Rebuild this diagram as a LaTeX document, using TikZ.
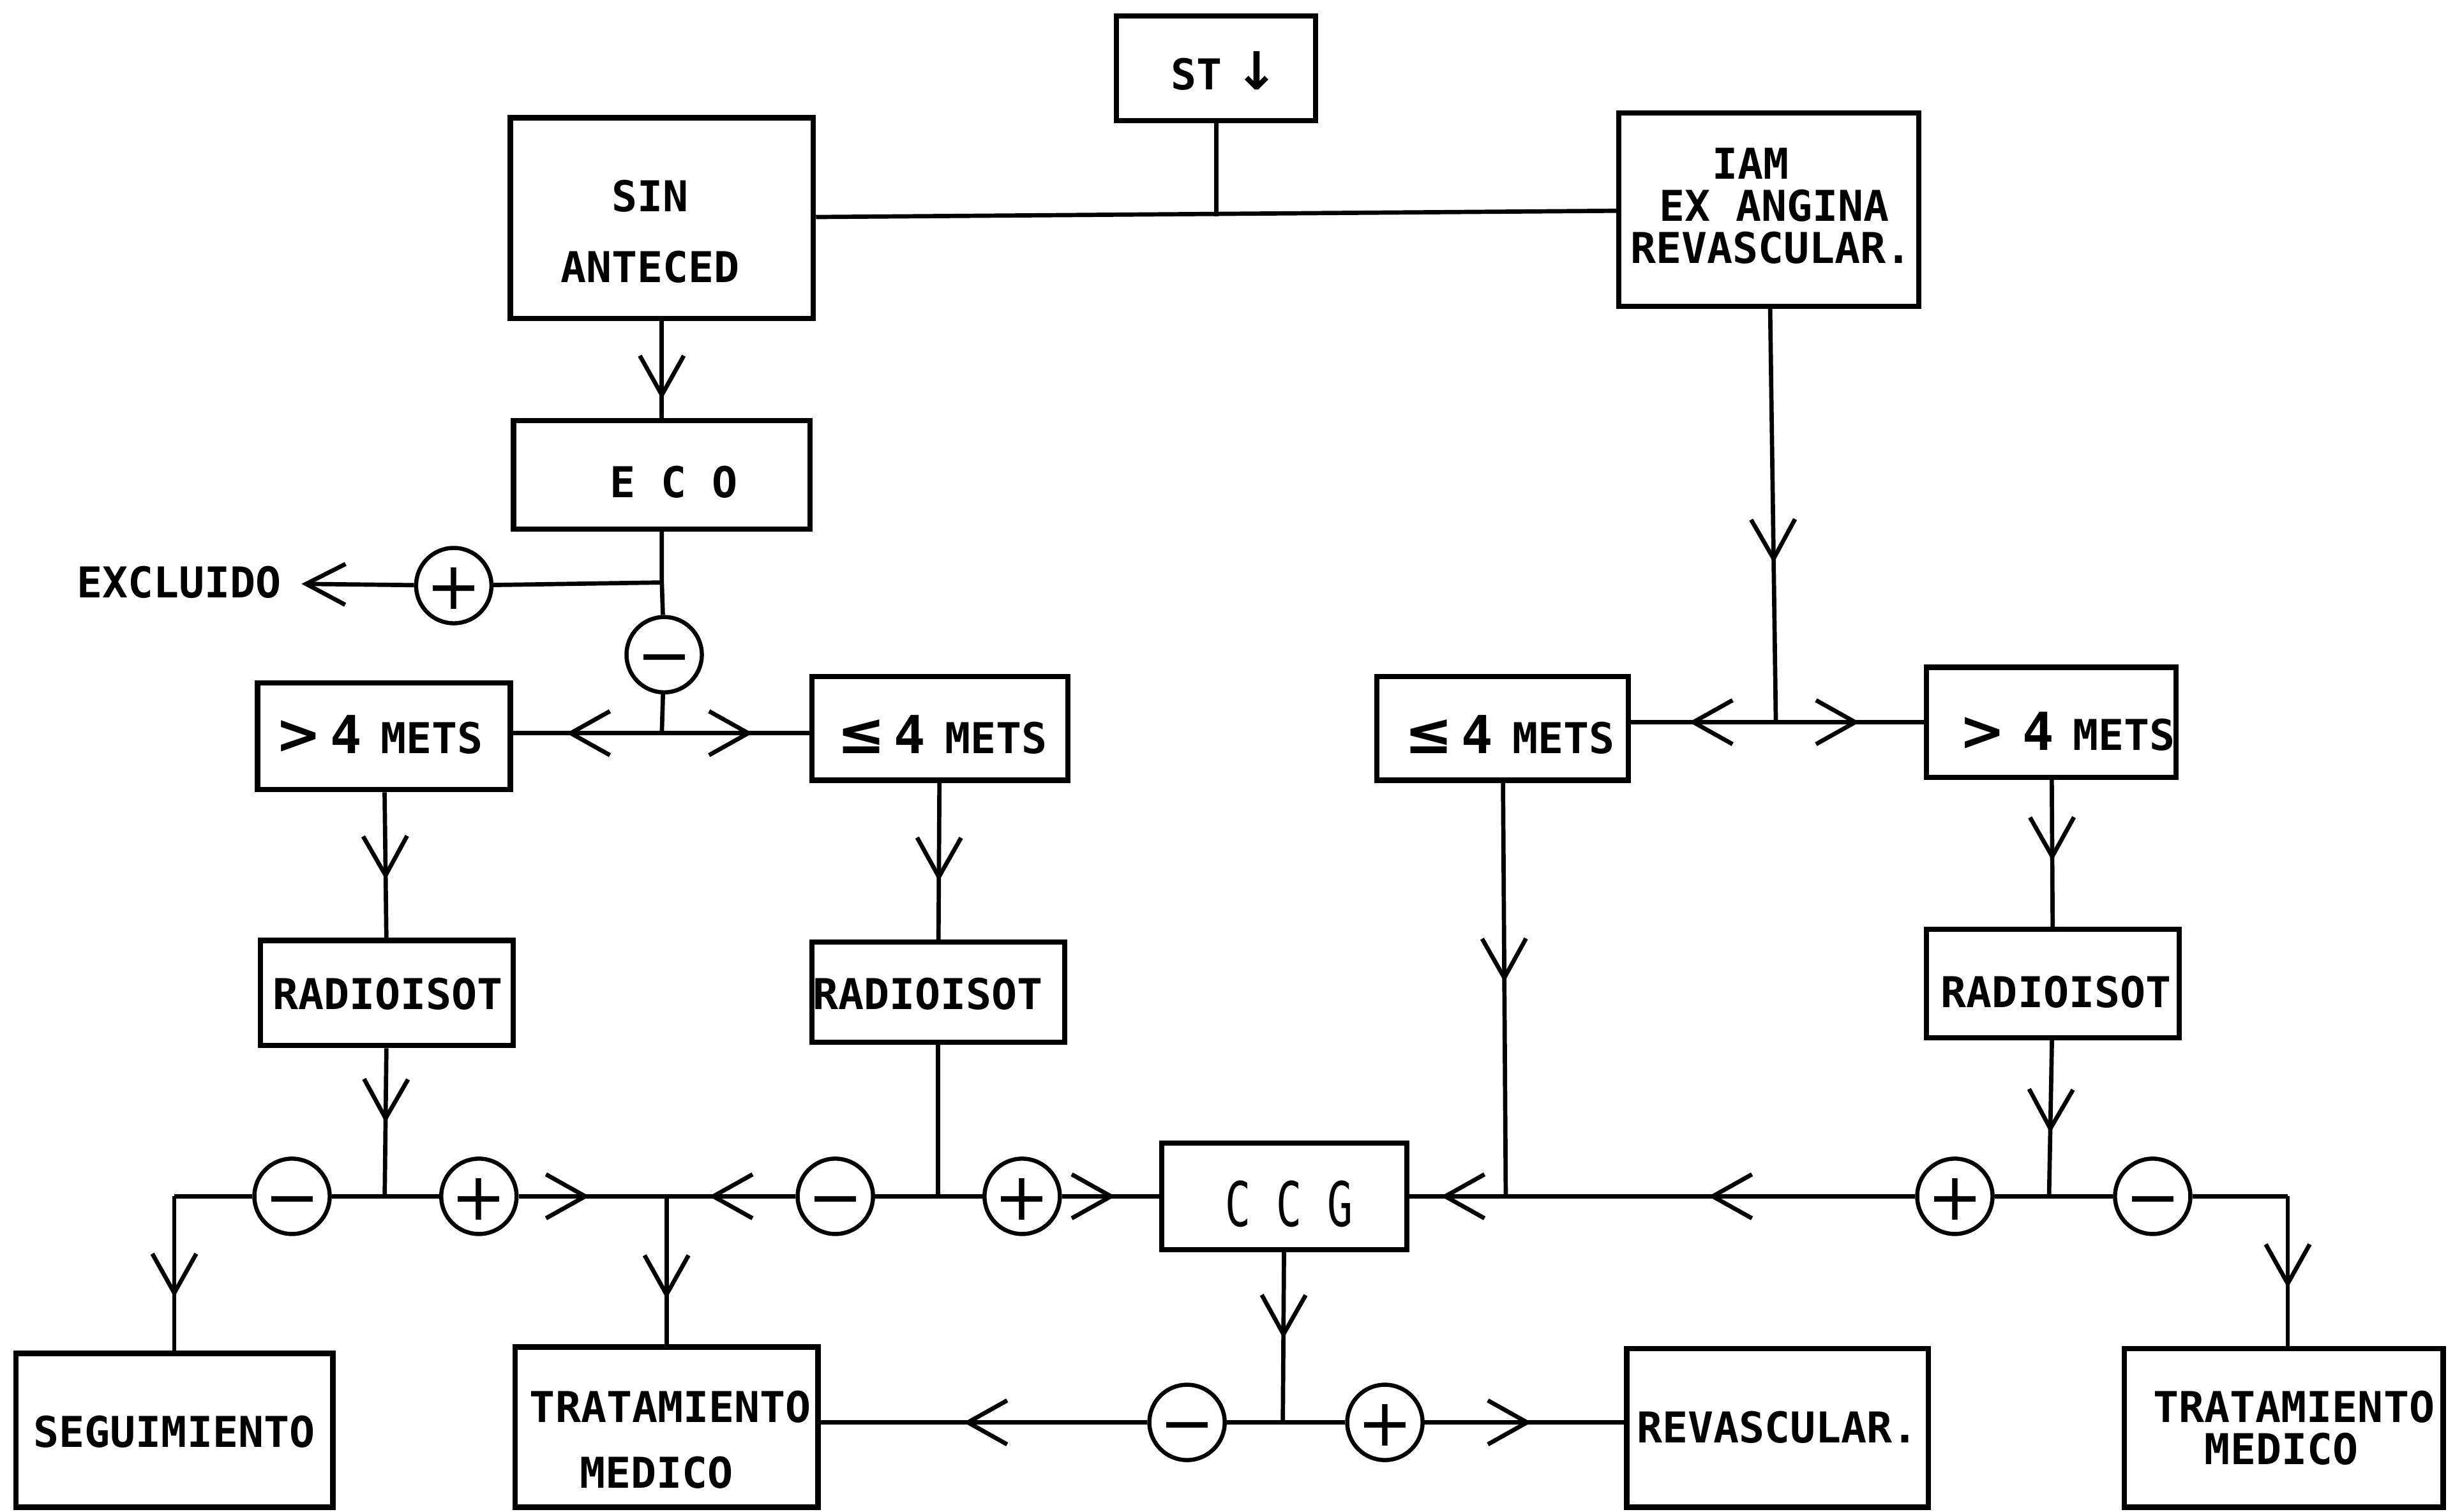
\documentclass[tikz,border=0pt]{standalone}
\usepackage{fontspec}
\usepackage{graphicx}
\usetikzlibrary{arrows.meta,decorations.markings,calc}
\newfontfamily\tf{DejaVu Sans Mono}
\newfontfamily\df{DejaVu Sans}
\begin{document}
\begin{tikzpicture}[x=0.02cm,y=-0.02cm,
  box/.style={draw,line width=1.9pt,inner sep=0pt},
  txt/.style={inner sep=0pt,font=\tf\bfseries\fontsize{15.4}{18}\selectfont},
  conn/.style={line width=1.55pt},
  sig/.style={draw,circle,line width=1.5pt,minimum size=0.96cm,inner sep=0pt,text height=17pt,text depth=0pt,font=\df\fontsize{24}{24}\selectfont},
  arr/.style={postaction={decorate},decoration={markings,mark=at position #1 with {\arrow{Straight Barb[length=0.5cm,width=0.56cm]}}}},
  endarr/.style={-{Straight Barb[length=0.5cm,width=0.52cm]}},
]
\useasboundingbox[fill=white] (0,0) rectangle (1568,963);

% boxes
\node[box,minimum width=2.54cm,minimum height=1.34cm] (st) at (774.5,43.5) {};
\node[box,minimum width=3.86cm,minimum height=2.56cm] (sin) at (421.5,139) {};
\node[box,minimum width=3.82cm,minimum height=2.46cm] (iam) at (1126.5,133.5) {};
\node[box,minimum width=3.78cm,minimum height=1.38cm] (eco) at (421.5,302.5) {};
\node[box,minimum width=3.22cm,minimum height=1.36cm] (gt1) at (244.5,469) {};
\node[box,minimum width=3.26cm,minimum height=1.32cm] (le1) at (598.5,464) {};
\node[box,minimum width=3.20cm,minimum height=1.32cm] (le2) at (957,464) {};
\node[box,minimum width=3.18cm,minimum height=1.40cm] (gt2) at (1306.5,460) {};
\node[box,minimum width=3.22cm,minimum height=1.34cm] (rad1) at (246.5,632.5) {};
\node[box,minimum width=3.22cm,minimum height=1.28cm] (rad2) at (597.5,632) {};
\node[box,minimum width=3.22cm,minimum height=1.38cm] (rad3) at (1307.5,626.5) {};
\node[box,minimum width=3.12cm,minimum height=1.36cm] (ccg) at (818,762) {};
\node[box,minimum width=4.04cm,minimum height=1.96cm] (seg) at (111,911) {};
\node[box,minimum width=3.86cm,minimum height=2.04cm] (trat1) at (424.5,909) {};
\node[box,minimum width=3.84cm,minimum height=2.02cm] (rev) at (1132,909.5) {};
\node[box,minimum width=4.06cm,minimum height=2.02cm] (trat2) at (1454.5,909.5) {};

% texts
\node[txt] (tst) at (780,45) {ST\hspace{0.3em}{\df\bfseries\fontsize{19}{19}\selectfont ↓}};
\node[txt] (tsin1) at (414,125) {SIN};
\node[txt] (tsin2) at (414,170) {ANTECED};
\node[txt] (tiam1) at (1115,104) {IAM};
\node[txt] (tiam2) at (1130,131) {EX ANGINA};
\node[txt] (tiam3) at (1128,158) {REVASCULAR.};
\node[txt] (teco) at (429,307) {E C O};
\node[txt,inner xsep=0.25cm] (excl) at (114,371) {EXCLUIDO};
\node[txt,anchor=base] (tgt1) at (241.5,480) {{\df\fontsize{20}{20}\selectfont>}\hspace{0.2em}{\fontsize{19}{19}\selectfont 4}\hspace{0.45em}METS};
\node[txt,anchor=base] (tle1) at (600,480) {{\df\fontsize{21}{21}\selectfont ≤}\hspace{0.2em}{\fontsize{19}{19}\selectfont 4}\hspace{0.45em}METS};
\node[txt,anchor=base] (tle2) at (961.5,480) {{\df\fontsize{21}{21}\selectfont ≤}\hspace{0.2em}{\fontsize{19}{19}\selectfont 4}\hspace{0.45em}METS};
\node[txt,anchor=base] (tgt2) at (1316.5,478) {{\df\fontsize{20}{20}\selectfont>}\hspace{0.4em}{\fontsize{19}{19}\selectfont 4}\hspace{0.45em}METS};
\node[txt] (trad1) at (247,633) {RADIOISOT};
\node[txt] (trad2) at (591,633) {RADIOISOT};
\node[txt] (trad3) at (1309.5,632) {RADIOISOT};
\node[txt,font=\tf\fontsize{15.4}{18}\selectfont] (tccg) at (821,767) {\scalebox{1}[1.45]{C C G}};
\node[txt] (tseg) at (111,912) {SEGUIMIENTO};
\node[txt] (ttr1a) at (427,896) {TRATAMIENTO};
\node[txt] (ttr1b) at (418,938) {MEDICO};
\node[txt] (trev) at (1132,909) {REVASCULAR.};
\node[txt] (ttr2a) at (1461,896) {TRATAMIENTO};
\node[txt] (ttr2b) at (1453,923) {MEDICO};

% sign circles
\node[sig] (p0) at (289,373) {+};
\node[sig] (m0) at (423,417) {−};
\node[sig] (m1) at (186,762) {−};
\node[sig] (p1) at (305,762) {+};
\node[sig] (m2) at (532,762) {−};
\node[sig] (p2) at (651,762) {+};
\node[sig] (p3) at (1245,762) {+};
\node[sig] (m3) at (1371,762) {−};
\node[sig] (m4) at (756,906) {−};
\node[sig] (p4) at (882,906) {+};

% junctions
\coordinate (jst) at (774.5,138);
\coordinate (ej) at (421.5,371);
\coordinate (j1) at (421.5,467);
\coordinate (j2) at (245,762);
\coordinate (k1) at (111,762);
\coordinate (j3) at (424.5,762);
\coordinate (j4) at (597.5,762);
\coordinate (j5) at (1131,460);
\coordinate (j6) at (959,762);
\coordinate (j7) at (1305,762);
\coordinate (k2) at (1457,762);
\coordinate (j8) at (817,906);

% connectors
\draw[conn] (st) -- (jst);
\draw[conn] (sin) -- (iam);
\draw[conn,arr=-0.24cm] (sin) -- (eco);
\draw[conn] (eco) -- (ej) -- (m0);
\draw[conn] (ej) -- (p0);
\draw[conn,endarr] (p0) -- (excl);
\draw[conn] (m0) -- (j1);
\draw[conn,arr=-0.68cm] (j1) -- (j1 -| gt1.east);
\draw[conn,arr=-0.72cm] (j1) -- (j1 -| le1.west);
\draw[conn,arr=-0.74cm] (gt1) -- (rad1);
\draw[conn,arr=-0.74cm] (le1) -- (rad2);
\draw[conn,arr=0.95cm] (rad1) -- (j2);
\draw[conn] (j2) -- (m1);
\draw[conn] (m1) -- (k1);
\draw[conn,arr=-0.68cm] (k1) -- (k1 |- seg.north);
\draw[conn] (j2) -- (p1);
\draw[conn,arr=-0.98cm] (p1) -- (j3);
\draw[conn,arr=-0.58cm] (j3) -- (j3 |- trat1.north);
\draw[conn] (rad2) -- (j4);
\draw[conn] (j4) -- (m2);
\draw[conn,arr=-0.54cm] (m2) -- (j3);
\draw[conn] (j4) -- (p2);
\draw[conn,arr=-0.56cm] (p2) -- (ccg);
\draw[conn,arr=3.24cm] (iam) -- (j5);
\draw[conn,arr=-0.74cm] (j5) -- (j5 -| le2.east);
\draw[conn,arr=-0.82cm] (j5) -- (j5 -| gt2.west);
\draw[conn,arr=2.54cm] (le2) -- (j6);
\draw[conn,arr=-0.84cm] (gt2) -- (rad3);
\draw[conn,arr=1.18cm] (rad3) -- (j7);
\draw[conn] (j7) -- (p3);
\draw[conn,arr=-2.58cm] (p3) -- (j6);
\draw[conn,arr=-0.40cm] (j6) -- (ccg);
\draw[conn] (j7) -- (m3);
\draw[conn] (m3) -- (k2);
\draw[conn,arr=-0.74cm] (k2) -- (k2 |- trat2.north);
\draw[conn,arr=1.1cm] (ccg) -- (j8);
\draw[conn] (j8) -- (m4);
\draw[conn,arr=-1.82cm] (m4) -- (m4 -| trat1.east);
\draw[conn] (j8) -- (p4);
\draw[conn,arr=-1.18cm] (p4) -- (p4 -| rev.west);
\end{tikzpicture}
\end{document}
